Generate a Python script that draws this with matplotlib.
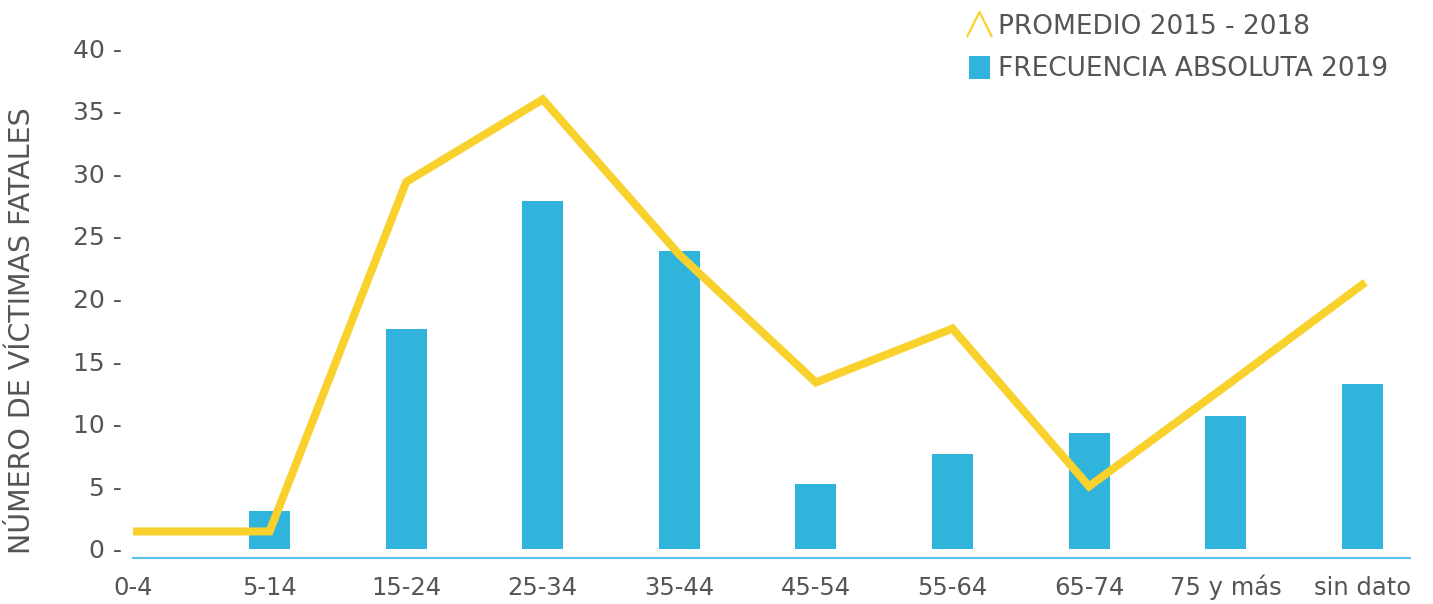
import matplotlib
matplotlib.use("Agg")
import matplotlib.pyplot as plt
from matplotlib.lines import Line2D
from matplotlib.patches import Patch
from matplotlib.path import Path
from matplotlib.markers import MarkerStyle

categories = ["0-4", "5-14", "15-24", "25-34", "35-44", "45-54", "55-64", "65-74", "75 y más", "sin dato"]
freq_2019 = [0, 3.0, 17.6, 27.8, 23.8, 5.2, 7.6, 9.3, 10.6, 13.2]
promedio_2015_2018 = [1.4, 1.4, 29.3, 35.9, 23.5, 13.3, 17.6, 5.0, 13.0, 21.1]
yticks = [0, 5, 10, 15, 20, 25, 30, 35, 40]

plt.rcParams['font.family'] = ['DejaVu Sans']
gray = '#555555'
yellow = '#F8D12C'
blue = '#30B4DB'

fig = plt.figure(figsize=(14.33, 6.04), dpi=100)
ax = fig.add_axes([133/1433, (604-558)/604, (1410-133)/1433, (558-48)/604])

x = list(range(len(categories)))
bar_vals = [v if v > 0 else float('nan') for v in freq_2019]
ax.bar(x, bar_vals, width=0.3, color=blue, zorder=2)
ax.plot(x, promedio_2015_2018, color=yellow, lw=5.8, solid_joinstyle='miter', zorder=3)

ax.set_xlim(0, 9.35)
ax.set_ylim(-0.72, 40)
ax.set_yticks(yticks)
ax.set_yticklabels([f"{v} -" for v in yticks], fontsize=18, color=gray)
ax.set_xticks(x)
ax.set_xticklabels(categories, fontsize=17.5, color=gray)
for lbl in ax.get_xticklabels():
    lbl.set_verticalalignment('baseline')
ax.tick_params(axis='both', length=0)
ax.tick_params(axis='y', pad=8)
ax.tick_params(axis='x', pad=26.5)
for s in ['top', 'right', 'left']:
    ax.spines[s].set_visible(False)
ax.spines['bottom'].set_color('#5BC3E6')
ax.spines['bottom'].set_linewidth(1.5)

fig.text(22/1433, 1 - 331/604, "NÚMERO DE VÍCTIMAS FATALES", rotation=90,
         ha='center', va='center', fontsize=20.5, color=gray)

caret = Path([(-1, -1), (0, 1), (1, -1)], [Path.MOVETO, Path.LINETO, Path.LINETO])
h1 = Line2D([], [], color=yellow, lw=0, marker=MarkerStyle(caret), markersize=18,
            markerfacecolor='none', markeredgecolor=yellow, markeredgewidth=1.6)
h2 = Patch(facecolor=blue, edgecolor='none')
leg = fig.legend([h1, h2], ["PROMEDIO 2015 - 2018", "FRECUENCIA ABSOLUTA 2019"],
                 loc='upper left', bbox_to_anchor=(958/1433, 1 - 3/604), frameon=False,
                 fontsize=19, handlelength=0.8, handleheight=0.95, handletextpad=0.3,
                 labelspacing=0.6, borderaxespad=0)
for t in leg.get_texts():
    t.set_color(gray)

fig.savefig("out.png", dpi=100)
